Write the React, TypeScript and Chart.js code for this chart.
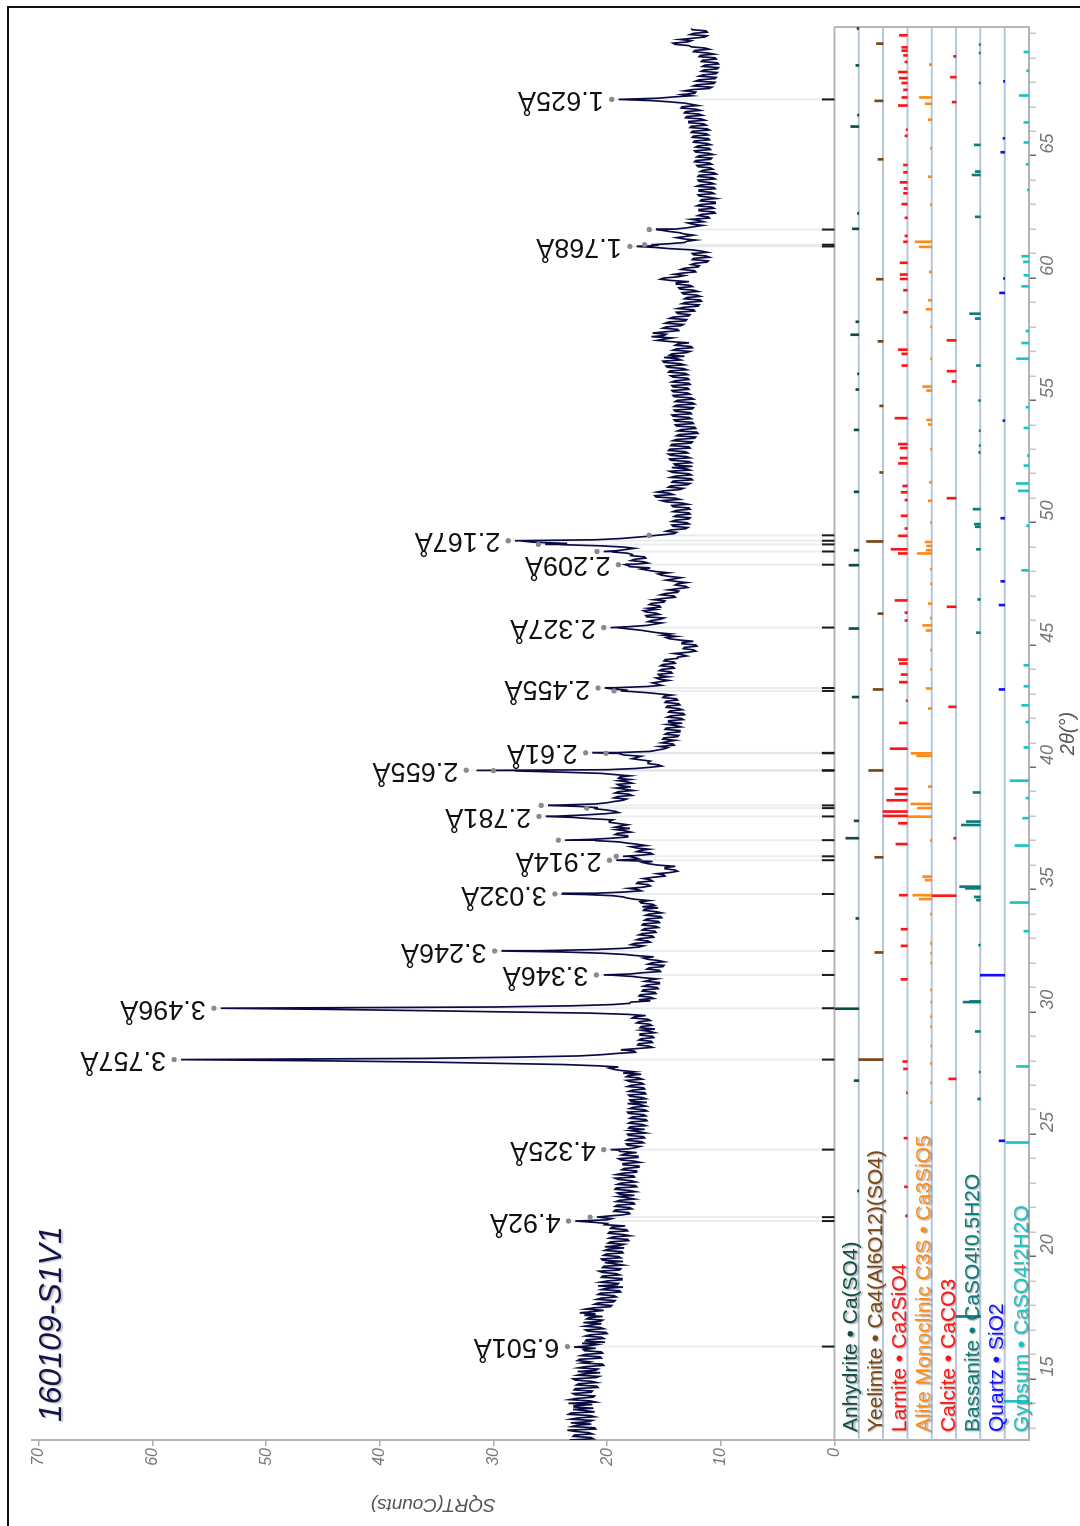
import React, { useEffect, useRef } from 'react';
import { Chart, registerables } from 'chart.js';

Chart.register(...registerables);

const FONT = '"Liberation Sans", Arial, Helvetica, sans-serif';

// ---- axes ----
const THETA_MIN = 12;
const THETA_MAX = 69.76;
const COUNTS_MAX = 70.6;
const LANE = 2.14; // height of one reference-pattern lane (SQRT(Counts) units)
const countTicks = [0, 10, 20, 30, 40, 50, 60, 70];
const thetaTicks = [12, 13, 14, 15, 16, 17, 18, 19, 20, 21, 22, 23, 24, 25, 26, 27, 28, 29, 30, 31, 32, 33, 34, 35, 36, 37, 38, 39, 40, 41, 42, 43, 44, 45, 46, 47, 48, 49, 50, 51, 52, 53, 54, 55, 56, 57, 58, 59, 60, 61, 62, 63, 64, 65, 66, 67, 68, 69];

// ---- measured scan, SQRT(Counts) at 12.0, 12.1, 12.2 ... ----
const SCAN_START = 12.0;
const SCAN_STEP = 0.1;
const scan12to20 = [
  23.3, 21.4, 22.9, 21.6, 23.5, 21.1, 22.7, 23.2, 21.3, 22.6,
  21.5, 23.2, 21.9, 21.2, 22.9, 23.4, 21.5, 22.7, 21.1, 23.0,
  21.3, 22.8, 20.9, 22.5, 21.4, 23.0, 20.7, 22.1, 22.6, 20.8,
  21.9, 20.4, 21.6, 22.4, 20.6, 21.9, 20.5, 22.1, 22.9, 20.9,
  20.2, 21.8, 20.5, 21.5, 20.1, 21.9, 20.6, 21.4, 22.1, 20.4,
  21.6, 22.0, 22.4, 20.3, 21.2, 19.6, 20.8, 19.3, 20.5, 19.4,
  20.6, 18.9, 20.1, 20.8, 19.0, 20.0, 18.7, 20.4, 19.2, 20.7,
  18.8, 20.3, 19.3, 18.6, 20.5, 19.0, 20.1, 18.7, 19.9, 20.2,
];
const scan20to30 = [
  18.5, 19.7, 18.2, 19.5, 18.6, 19.8, 18.3, 19.6, 20.2, 21.2,
  20.0, 20.6, 18.7, 18.1, 19.3, 18.0, 19.1, 17.7, 18.9, 18.2,
  17.6, 19.1, 18.0, 19.2, 17.5, 18.8, 17.9, 19.3, 17.7, 18.7,
  17.4, 18.5, 17.2, 18.6, 17.6, 19.0, 17.3, 18.4, 18.9, 18.2,
  17.1, 18.3, 17.0, 18.1, 16.8, 18.2, 17.2, 16.7, 18.0, 16.9,
  17.9, 16.6, 17.8, 16.8, 18.2, 16.7, 17.7, 17.0, 16.5, 18.0,
  16.9, 18.1, 16.7, 17.8, 16.8, 17.9, 17.0, 18.3, 17.2, 18.1,
  18.6, 18.7, 19.8, 21.0, 30.0, 45.0, 36.0, 22.5, 19.2, 17.6,
  17.4, 16.3, 17.2, 16.1, 17.0, 16.0, 17.1, 16.2, 15.8, 17.0,
  16.3, 17.2, 16.4, 17.6, 18.2, 29.0, 44.0, 30.0, 19.5, 17.9,
];
const scan30to40 = [
  17.2, 16.2, 17.1, 15.8, 16.8, 15.6, 16.5, 15.4, 16.3, 16.9,
  19.5, 16.9, 15.4, 16.3, 15.0, 16.1, 15.5, 16.8, 17.4, 20.5,
  26.0, 18.5, 16.8, 17.6, 16.4, 17.1, 16.0, 16.9, 15.8, 16.7,
  15.7, 16.8, 15.5, 16.5, 15.3, 16.3, 15.7, 16.7, 16.9, 16.0,
  17.1, 17.5, 18.6, 22.0, 18.5, 17.3, 16.8, 16.4, 17.3, 16.2,
  16.0, 15.0, 14.4, 14.0, 14.9, 15.5, 16.8, 19.2, 17.5, 17.2,
  16.2, 17.1, 17.4, 16.6, 18.2, 21.0, 19.6, 18.2, 19.1, 18.4,
  18.0, 18.8, 19.0, 19.8, 21.5, 24.5, 20.2, 19.3, 21.0, 22.5,
  21.0, 19.4, 18.3, 19.1, 18.1, 19.0, 18.4, 17.9, 19.1, 18.2,
  18.0, 18.9, 19.3, 24.0, 20.0, 16.2, 15.5, 16.4, 17.0, 17.4,
];
const scan40to50 = [
  18.5, 19.0, 15.6, 14.7, 14.1, 15.2, 14.0, 15.0, 13.7, 14.7,
  13.6, 14.8, 13.9, 13.4, 14.6, 13.5, 14.4, 13.3, 14.5, 13.7,
  14.7, 13.7, 14.8, 13.9, 15.0, 15.4, 18.0, 19.5, 16.5, 15.6,
  15.3, 15.4, 14.6, 15.5, 14.4, 15.2, 14.2, 15.1, 14.1, 14.9,
  13.8, 13.4, 12.9, 12.4, 13.2, 12.2, 13.4, 13.6, 14.8, 15.1,
  15.6, 17.0, 19.0, 16.5, 15.2, 16.1, 15.0, 16.6, 15.7, 16.8,
  16.4, 15.4, 16.1, 14.9, 15.1, 14.1, 14.9, 13.7, 13.8, 13.1,
  13.8, 14.0, 14.1, 14.5, 15.5, 15.7, 17.0, 18.0, 17.6, 16.8,
  17.6, 16.7, 17.8, 19.5, 18.4, 18.5, 24.0, 26.5, 21.0, 17.5,
  15.2, 13.9, 14.4, 12.9, 14.3, 13.0, 14.0, 12.7, 13.9, 12.8,
];
const scan50to60 = [
  13.9, 12.8, 14.3, 13.4, 15.2, 14.0, 15.8, 14.5, 15.0, 13.3,
  14.4, 12.7, 14.2, 12.6, 14.0, 12.8, 14.5, 13.0, 12.5, 14.1,
  12.8, 14.5, 13.0, 14.6, 13.1, 14.5, 12.8, 14.3, 12.5, 13.9,
  12.2, 13.7, 12.1, 13.5, 12.3, 14.0, 12.5, 14.1, 12.8, 14.3,
  12.7, 14.1, 12.4, 13.9, 12.5, 13.8, 12.6, 14.2, 12.9, 14.3,
  12.9, 14.3, 12.8, 14.0, 12.9, 14.4, 13.1, 14.5, 13.3, 14.8,
  13.6, 15.1, 13.8, 13.2, 14.3, 12.7, 13.9, 12.6, 13.8, 14.4,
  15.0, 16.1, 14.8, 14.9, 13.8, 14.8, 13.3, 14.6, 13.0, 14.2,
  12.7, 13.9, 12.4, 13.3, 11.9, 13.1, 11.8, 13.0, 12.1, 13.4,
  12.4, 13.7, 12.7, 13.9, 14.4, 15.0, 13.2, 13.4, 12.3, 13.2,
];
const scan60to70 = [
  11.9, 12.3, 11.1, 12.4, 11.3, 12.5, 11.7, 14.5, 16.5, 14.6,
  13.0, 13.3, 13.1, 13.2, 14.5, 14.0, 12.3, 12.5, 11.5, 12.6,
  11.1, 11.7, 10.6, 11.9, 10.8, 11.8, 10.5, 11.7, 11.0, 12.0,
  10.8, 11.9, 10.6, 11.8, 10.9, 12.0, 10.7, 11.9, 10.6, 11.6,
  10.9, 12.1, 11.0, 12.2, 10.8, 11.9, 11.1, 12.3, 11.0, 12.0,
  11.2, 12.3, 11.1, 12.4, 11.3, 12.5, 11.2, 12.6, 11.5, 12.8,
  11.7, 13.0, 11.9, 13.1, 12.2, 13.4, 12.6, 14.5, 19.0, 14.2,
  13.4, 12.2, 12.5, 10.8, 12.1, 10.5, 11.9, 10.4, 11.6, 10.3,
  11.5, 10.2, 11.4, 10.3, 11.6, 10.5, 11.8, 11.2, 12.3, 11.4,
  12.8, 14.2, 12.6, 12.5, 11.2, 12.4, 11.3, 12.6,
];

// ---- measured scan, in-between readings at 12.05, 12.15, 12.25 ... ----
const MID_START = 12.05;
const mid12to20 = [
  21.2, 23.0, 21.3, 22.8, 21.0, 23.1, 21.4, 21.6, 23.2, 21.1,
  23.4, 21.1, 23.0, 22.9, 21.3, 21.0, 23.3, 21.2, 22.8, 21.4,
  22.9, 20.8, 22.7, 20.9, 22.8, 21.0, 22.6, 20.6, 21.0, 22.5,
  20.3, 22.2, 22.6, 20.5, 22.3, 20.4, 22.0, 21.0, 21.6, 22.2,
  21.9, 20.3, 21.9, 20.0, 21.7, 20.3, 22.0, 20.5, 20.6, 21.8,
  20.4, 21.0, 21.2, 21.9, 19.7, 21.1, 19.4, 20.9, 19.2, 20.8,
  18.8, 20.5, 18.6, 19.1, 20.6, 18.7, 20.5, 18.9, 20.4, 18.9,
  20.4, 18.6, 20.2, 20.4, 18.8, 20.3, 18.6, 20.2, 18.5, 18.9,
];
const mid20to30 = [
  19.9, 18.1, 19.8, 18.0, 19.9, 18.2, 19.7, 18.4, 20.0, 22.8,
  19.6, 20.0, 18.0, 19.4, 17.8, 19.3, 17.6, 19.2, 17.6, 19.0,
  18.9, 17.5, 19.3, 17.4, 19.1, 17.5, 19.0, 17.6, 19.2, 17.4,
  18.7, 17.2, 18.6, 17.1, 18.8, 17.3, 18.7, 17.4, 19.0, 17.5,
  18.2, 16.8, 18.3, 16.7, 18.1, 16.6, 18.0, 18.1, 16.6, 18.1,
  16.5, 18.0, 16.6, 18.1, 16.5, 18.0, 16.6, 18.2, 17.9, 16.6,
  18.0, 16.6, 18.1, 16.7, 18.2, 16.8, 18.0, 16.9, 18.3, 17.0,
  17.6, 19.4, 19.0, 24.0, 36.0, 57.5, 28.0, 20.5, 17.5, 18.8,
  16.0, 17.3, 16.0, 17.2, 15.9, 17.1, 15.8, 17.0, 17.1, 16.1,
  17.4, 16.2, 17.8, 16.6, 21.5, 36.0, 54.0, 23.0, 18.0, 16.2,
];
const mid30to40 = [
  15.9, 17.2, 15.7, 16.9, 15.5, 16.8, 15.4, 16.7, 15.6, 17.8,
  18.0, 15.3, 16.5, 15.1, 16.4, 15.0, 16.4, 15.9, 18.5, 24.0,
  21.0, 17.2, 17.9, 16.2, 17.4, 15.9, 17.2, 15.7, 16.9, 15.5,
  16.9, 15.4, 16.7, 15.2, 16.6, 15.2, 16.8, 15.5, 15.8, 17.0,
  16.3, 18.2, 19.5, 21.0, 17.0, 18.1, 16.2, 17.4, 16.0, 16.8,
  14.9, 15.6, 13.8, 14.9, 14.0, 16.3, 16.0, 17.2, 18.0, 16.0,
  17.4, 16.3, 17.9, 17.3, 19.0, 21.5, 18.2, 19.3, 17.9, 19.2,
  19.3, 18.2, 19.8, 19.5, 23.0, 22.0, 19.0, 20.0, 20.8, 24.5,
  20.0, 18.6, 19.4, 17.8, 19.3, 17.7, 19.2, 18.9, 17.8, 19.0,
  19.0, 18.0, 20.5, 28.0, 17.5, 15.2, 16.4, 16.2, 17.8, 17.0,
];
const mid40to50 = [
  18.9, 16.2, 15.0, 15.4, 14.2, 14.7, 15.1, 13.8, 14.9, 13.6,
  14.9, 13.5, 14.7, 14.6, 13.3, 14.7, 13.2, 14.6, 13.4, 14.8,
  13.6, 14.9, 13.8, 15.1, 14.3, 16.5, 18.2, 19.4, 15.2, 16.0,
  14.6, 15.7, 15.4, 14.3, 15.4, 14.1, 15.3, 14.0, 15.0, 13.8,
  13.0, 14.1, 12.2, 13.3, 12.1, 13.4, 12.4, 14.5, 13.9, 14.4,
  16.3, 18.0, 18.0, 15.8, 16.4, 15.3, 16.5, 15.4, 16.6, 15.7,
  15.3, 16.3, 15.0, 15.9, 14.0, 15.3, 13.8, 14.6, 12.9, 14.0,
  13.0, 14.8, 13.5, 15.2, 14.6, 16.4, 16.2, 18.2, 16.4, 17.9,
  16.6, 17.9, 18.2, 19.2, 17.6, 20.5, 23.5, 27.5, 18.8, 16.2,
  14.1, 14.8, 13.1, 14.2, 12.8, 14.3, 12.8, 14.1, 12.7, 14.2,
];
const mid50to60 = [
  12.7, 14.2, 12.9, 14.8, 13.6, 15.7, 14.2, 15.6, 13.6, 14.6,
  12.9, 14.3, 12.5, 14.4, 12.6, 14.2, 12.7, 14.3, 14.0, 12.6,
  14.4, 12.7, 14.4, 12.9, 14.6, 12.7, 14.4, 12.6, 14.2, 12.3,
  13.9, 12.0, 13.8, 12.2, 13.9, 12.4, 14.0, 12.6, 14.2, 12.6,
  14.0, 12.5, 14.1, 12.3, 14.0, 12.4, 14.1, 12.7, 14.2, 12.8,
  14.2, 12.7, 14.3, 12.8, 14.2, 12.9, 14.6, 13.0, 14.7, 13.2,
  15.0, 13.5, 15.0, 14.5, 13.0, 14.2, 12.5, 14.0, 12.8, 15.6,
  14.3, 15.0, 16.0, 13.7, 15.1, 13.5, 14.9, 13.1, 14.5, 12.8,
  13.8, 12.3, 13.8, 12.0, 13.4, 11.7, 13.2, 11.8, 13.3, 12.0,
  13.6, 12.5, 13.9, 12.8, 15.3, 13.7, 14.1, 12.2, 13.5, 12.0,
];
const mid60to70 = [
  12.6, 11.2, 12.5, 11.0, 12.4, 11.2, 12.5, 15.8, 15.5, 13.2,
  12.2, 13.9, 12.4, 13.6, 15.2, 13.0, 11.6, 12.9, 11.9, 11.0,
  12.0, 10.5, 11.9, 10.6, 12.1, 10.5, 11.8, 10.4, 11.9, 10.6,
  11.9, 10.5, 12.1, 10.6, 11.9, 10.5, 12.0, 10.4, 11.8, 10.7,
  12.0, 10.8, 12.3, 10.9, 12.1, 10.7, 12.2, 10.9, 12.2, 10.9,
  12.4, 11.0, 12.5, 11.1, 12.6, 11.0, 12.7, 11.3, 12.8, 11.4,
  13.1, 11.6, 13.2, 11.8, 13.5, 12.0, 13.2, 16.0, 15.5, 12.6,
  12.3, 13.2, 11.0, 12.4, 10.6, 12.2, 10.5, 11.9, 10.4, 11.7,
  10.3, 11.6, 10.2, 11.7, 10.4, 11.9, 10.6, 12.4, 11.0, 12.6,
  14.0, 12.9, 13.6, 11.4, 12.7, 11.2, 12.5,
];

// extra measured points on sharp reflections (2θ, SQRT(Counts))
const peakTheta = [21.11, 23.87, 31.01, 31.99, 34.32, 35.86, 36.52, 37.49, 37.83, 37.94, 39.36, 39.38, 40.07, 40.09, 42.62, 42.74, 45.21, 47.78, 48.32, 48.61, 48.76, 48.98, 60.79, 60.86, 61.48];
const peakCounts = [20.9, 19.7, 20.3, 29.3, 24.0, 18.6, 23.7, 25.4, 21.2, 25.2, 29.4, 31.5, 19.5, 21.3, 18.8, 20.2, 19.7, 18.4, 20.3, 25.45, 28.1, 15.7, 17.4, 16.1, 15.7];

// labelled peaks (d-spacing) and their marker height
const labelTheta = [15.82, 20.95, 23.87, 27.55, 29.65, 31.01, 31.99, 34.32, 35.70, 37.49, 39.38, 40.09, 42.74, 45.21, 47.78, 48.76, 60.79, 66.80];
const labelText = ['6.501Å', '4.92Å', '4.325Å', '3.757Å', '3.496Å', '3.346Å', '3.246Å', '3.032Å', '2.914Å', '2.781Å', '2.655Å', '2.61Å', '2.455Å', '2.327Å', '2.209Å', '2.167Å', '1.768Å', '1.625Å'];
const labelDot = [23.5, 23.4, 20.3, 58.1, 54.6, 20.95, 29.9, 24.6, 19.8, 26.0, 32.4, 21.9, 20.8, 20.3, 19.0, 28.7, 18.0, 19.6];
// unlabelled peak markers
const extraTheta = [21.11, 35.86, 36.52, 37.83, 37.94, 39.36, 40.07, 42.62, 48.32, 48.61, 48.98, 60.86, 61.48];
const extraDot = [21.5, 19.2, 24.3, 21.8, 25.8, 30.0, 20.1, 19.4, 20.9, 26.05, 16.3, 16.7, 16.3];

// ---- reference patterns: [2θ, relative intensity %] ----
const phaseNames = ['Anhydrite', 'Yeelimite', 'Larnite', 'Alite Monoclinic C3S', 'Calcite', 'Bassanite', 'Quartz', 'Gypsum'];
const phaseFormulas = ['Ca(SO4)', 'Ca4(Al6O12)(SO4)', 'Ca2SiO4', 'Ca3SiO5', 'CaCO3', 'CaSO4!0.5H2O', 'SiO2', 'CaSO4!2H2O'];
const phaseColors = ['#0e4d47', '#7a4612', '#ff1414', '#ff8a14', '#ff1414', '#0b7d78', '#1010ff', '#18c4c4'];

const anhydriteSticks = [[22.18, 5], [26.69, 19], [29.63, 100], [33.32, 12], [36.6, 53], [37.31, 19], [42.37, 27], [45.17, 40], [47.76, 40], [48.37, 19], [50.76, 19], [53.29, 19], [54.94, 12], [55.58, 5], [57.18, 33], [57.71, 12], [61.51, 26], [62.14, 5], [65.69, 33], [66.16, 5], [68.19, 12], [69.7, 7]];
const yeelimiteSticks = [[27.55, 100], [31.93, 34], [35.82, 34], [39.37, 59], [42.68, 41], [45.78, 21], [48.73, 68], [51.55, 14], [54.27, 14], [56.91, 21], [59.45, 27], [64.35, 21], [66.74, 34], [69.08, 27]];
const larniteSticks = [[21.16, 8], [22.35, 12], [24.34, 14], [26.19, 4], [27.17, 16], [27.47, 19], [30.83, 26], [32.2, 26], [32.88, 26], [34.27, 33], [36.36, 47], [37.21, 37], [37.51, 100], [37.69, 100], [38.15, 85], [38.4, 51], [38.62, 51], [40.26, 71], [41.31, 33], [42.22, 5], [42.98, 33], [43.29, 26], [43.74, 33], [43.9, 37], [45.5, 10], [45.82, 10], [46.32, 51], [48.24, 37], [48.41, 67], [48.96, 37], [49.26, 10], [49.78, 26], [50.42, 10], [50.74, 26], [51.0, 19], [51.92, 37], [52.14, 30], [52.55, 30], [52.71, 37], [53.77, 51], [55.92, 23], [56.4, 23], [56.57, 37], [58.1, 16], [59.0, 16], [59.46, 30], [59.64, 30], [60.12, 30], [60.98, 16], [61.22, 10], [61.96, 10], [62.52, 23], [62.96, 16], [63.16, 14], [63.41, 30], [63.82, 16], [64.12, 16], [65.31, 10], [65.56, 5], [66.55, 37], [66.88, 23], [67.19, 16], [67.47, 23], [67.67, 33], [67.92, 37], [68.33, 10], [68.6, 16], [68.79, 23], [68.93, 23], [69.42, 33]];
const aliteSticks = [[25.8, 5], [26.6, 5], [27.4, 6], [28.1, 4], [28.9, 5], [29.3, 6], [29.9, 4], [30.4, 5], [31.5, 4], [31.9, 5], [32.3, 5], [33.5, 5], [34.11, 51], [34.27, 78], [34.89, 27], [35.03, 37], [36.5, 6], [37.48, 100], [37.83, 59], [38.0, 86], [38.71, 14], [39.97, 62], [40.07, 85], [41.9, 14], [42.72, 23], [43.5, 5], [44.3, 5], [45.09, 23], [45.3, 37], [45.6, 6], [46.19, 14], [47.0, 5], [47.6, 6], [48.24, 59], [48.37, 23], [48.55, 21], [48.71, 27], [49.5, 5], [50.39, 14], [51.15, 10], [52.5, 5], [53.51, 14], [53.7, 21], [54.9, 21], [55.06, 37], [56.2, 5], [57.5, 5], [58.22, 23], [58.59, 14], [59.75, 10], [60.77, 51], [60.98, 68], [62.5, 5], [63.64, 14], [64.8, 5], [65.97, 14], [66.62, 27], [66.88, 51], [68.22, 10], [69.86, 5]];
const calciteSticks = [[26.76, 30], [34.25, 100], [36.6, 10], [41.97, 30], [46.06, 37], [50.5, 37], [55.27, 16], [55.69, 37], [56.95, 37], [66.69, 16], [67.71, 23], [68.56, 10]];
const bassaniteSticks = [[17.05, 100], [25.94, 11], [27.04, 5], [28.7, 21], [29.9, 71], [29.93, 44], [32.23, 7], [34.07, 16], [34.2, 25], [34.55, 62], [34.62, 85], [37.14, 78], [37.28, 58], [38.47, 30], [45.0, 16], [46.36, 11], [48.41, 16], [49.33, 21], [49.44, 25], [50.05, 30], [52.37, 7], [52.65, 5], [53.26, 5], [54.49, 7], [55.92, 16], [57.84, 21], [58.04, 44], [62.0, 21], [63.71, 34], [63.85, 21], [64.94, 25], [67.47, 5], [68.7, 5], [69.04, 5]];
const quartzSticks = [[24.23, 23], [31.0, 100], [42.68, 23], [46.13, 23], [47.1, 16], [49.68, 16], [53.67, 7], [58.89, 21], [59.48, 5], [64.64, 16], [65.21, 7], [67.54, 5]];
const gypsumSticks = [[13.58, 100], [24.16, 95], [27.27, 51], [32.8, 21], [33.97, 78], [36.3, 58], [37.42, 26], [38.24, 12], [38.95, 78], [40.31, 21], [41.35, 12], [42.03, 30], [42.81, 21], [43.67, 21], [47.55, 30], [49.37, 10], [50.8, 44], [51.1, 52], [51.83, 21], [52.24, 7], [53.37, 21], [54.22, 12], [56.2, 51], [56.84, 30], [57.33, 12], [59.16, 30], [59.61, 21], [60.16, 23], [60.39, 30], [63.1, 7], [64.15, 12], [65.04, 21], [65.86, 21], [66.96, 40], [67.97, 10], [68.74, 21]];
const phaseSticks = [anhydriteSticks, yeelimiteSticks, larniteSticks, aliteSticks, calciteSticks, bassaniteSticks, quartzSticks, gypsumSticks];

const SAMPLE_TITLE = '160109-S1V1';

const decorPlugin = {
  id: 'xrdDecor',
  beforeDraw(chart: any) {
    const { ctx, width } = chart;
    ctx.save();
    ctx.strokeStyle = '#111';
    ctx.lineWidth = 2;
    ctx.beginPath();
    ctx.moveTo(-5, 8);
    ctx.lineTo(width - 7, 8);
    ctx.lineTo(width - 7, chart.height + 10);
    ctx.stroke();
    ctx.restore();
  },
  beforeDatasetsDraw(chart: any) {
    const { ctx, chartArea: a, scales } = chart;
    const x = scales.x;
    const y = scales.y;
    ctx.save();
    // guide lines from markers down to baseline
    ctx.lineWidth = 2;
    ctx.strokeStyle = 'rgba(200,204,216,0.38)';
    const ts = [...labelTheta, ...extraTheta];
    const ds = [...labelDot, ...extraDot];
    ts.forEach((t, i) => {
      const px = x.getPixelForValue(t);
      ctx.beginPath();
      ctx.moveTo(px, y.getPixelForValue(ds[i]));
      ctx.lineTo(px, y.getPixelForValue(0));
      ctx.stroke();
    });
    // lane baselines
    ctx.strokeStyle = '#b5c6de';
    ctx.lineWidth = 2;
    for (let k = 1; k < phaseNames.length; k++) {
      const py = y.getPixelForValue(-LANE * k);
      ctx.beginPath();
      ctx.moveTo(a.left, py);
      ctx.lineTo(a.right, py);
      ctx.stroke();
    }
    // boundary between scan and patterns + right border of pattern box
    ctx.strokeStyle = '#b6b6b6';
    const p0 = y.getPixelForValue(0);
    ctx.beginPath();
    ctx.moveTo(a.left, p0);
    ctx.lineTo(a.right, p0);
    ctx.moveTo(a.right, p0);
    ctx.lineTo(a.right, a.bottom);
    ctx.stroke();
    ctx.restore();
  },
  afterDatasetsDraw(chart: any) {
    const { ctx, chartArea: a, scales } = chart;
    const x = scales.x;
    const y = scales.y;
    ctx.save();
    const ts = [...labelTheta, ...extraTheta];
    const ds = [...labelDot, ...extraDot];
    // black marker ticks at baseline
    ctx.strokeStyle = '#1a1a1a';
    ctx.lineWidth = 2;
    ts.forEach((t) => {
      const px = x.getPixelForValue(t);
      ctx.beginPath();
      ctx.moveTo(px, y.getPixelForValue(0));
      ctx.lineTo(px, y.getPixelForValue(1.1));
      ctx.stroke();
    });
    // marker dots
    ctx.fillStyle = '#8a8a8a';
    ts.forEach((t, i) => {
      ctx.beginPath();
      ctx.arc(x.getPixelForValue(t), y.getPixelForValue(ds[i]), 2.6, 0, Math.PI * 2);
      ctx.fill();
    });
    // d-spacing labels
    ctx.fillStyle = '#111';
    ctx.font = `27px ${FONT}`;
    ctx.textAlign = 'left';
    ctx.textBaseline = 'middle';
    labelTheta.forEach((t, i) => {
      ctx.save();
      ctx.translate(x.getPixelForValue(t), y.getPixelForValue(labelDot[i]) - 8);
      ctx.rotate(-Math.PI / 2);
      ctx.fillText(labelText[i], 0, 0);
      ctx.restore();
    });
    // lane legends
    ctx.font = `21px ${FONT}`;
    ctx.textBaseline = 'alphabetic';
    ctx.shadowColor = 'rgba(0,0,0,0.35)';
    ctx.shadowBlur = 1.5;
    ctx.shadowOffsetX = -1;
    ctx.shadowOffsetY = 1.5;
    phaseNames.forEach((n, k) => {
      ctx.fillStyle = phaseColors[k];
      ctx.fillText(`${n} • ${phaseFormulas[k]}`, a.left + 8, y.getPixelForValue(-LANE * (k + 1)) - 1.5);
    });
    // sample title
    ctx.fillStyle = '#14144a';
    ctx.font = `italic 32px ${FONT}`;
    ctx.shadowColor = 'rgba(0,0,0,0.25)';
    ctx.fillText(SAMPLE_TITLE, a.left + 18, a.top + 29);
    ctx.shadowColor = 'rgba(0,0,0,0)';
    // y-axis title centred on the counts range
    ctx.save();
    ctx.fillStyle = '#555';
    ctx.font = `italic 19px ${FONT}`;
    ctx.textAlign = 'center';
    ctx.textBaseline = 'middle';
    ctx.translate(y.left + 22, y.getPixelForValue(COUNTS_MAX / 2));
    ctx.rotate(-Math.PI / 2);
    ctx.fillText('SQRT(Counts)', 0, 0);
    ctx.restore();
    ctx.restore();
  },
};

export default function App() {
  const ref = useRef<HTMLCanvasElement>(null);

  useEffect(() => {
    const canvas = ref.current;
    if (!canvas) return;
    const scan = [...scan12to20, ...scan20to30, ...scan30to40, ...scan40to50, ...scan50to60, ...scan60to70];
    const mid = [...mid12to20, ...mid20to30, ...mid30to40, ...mid40to50, ...mid50to60, ...mid60to70];
    const pts = scan.map((c, i) => ({ x: Math.round((SCAN_START + i * SCAN_STEP) * 100) / 100, y: c }));
    mid.forEach((c, i) => pts.push({ x: Math.round((MID_START + i * SCAN_STEP) * 100) / 100, y: c }));
    peakTheta.forEach((t, i) => pts.push({ x: t, y: peakCounts[i] }));
    pts.sort((p, q) => p.x - q.x);

    const stickSets = phaseSticks.map((list, k) => ({
      type: 'bar' as const,
      data: list.map(([t, I]) => ({ x: t, y: [-LANE * (k + 1), -LANE * (k + 1) + (LANE * I) / 100] })),
      backgroundColor: phaseColors[k],
      borderWidth: 0,
      barThickness: 2,
      grouped: false,
      order: 2,
    }));

    const chart = new Chart(canvas, {
      type: 'line',
      data: {
        datasets: [
          {
            type: 'line',
            data: pts,
            borderColor: '#0b0b44',
            borderWidth: 1.7,
            pointRadius: 0,
            tension: 0,
            fill: false,
            order: 1,
          } as any,
          ...(stickSets as any[]),
        ],
      },
      options: {
        responsive: false,
        animation: false,
        events: [],
        layout: { padding: { left: 0, right: 27, top: 32, bottom: 0 } },
        plugins: { legend: { display: false }, tooltip: { enabled: false }, title: { display: false } },
        scales: {
          x: {
            type: 'linear',
            min: THETA_MIN,
            max: THETA_MAX,
            offset: false,
            afterBuildTicks: (s: any) => {
              s.ticks = thetaTicks.map((v) => ({ value: v }));
            },
            afterFit: (s: any) => {
              s.height = 51;
            },
            ticks: {
              autoSkip: false,
              maxRotation: 0,
              minRotation: 0,
              padding: 1,
              color: '#777',
              font: { family: FONT, size: 18, style: 'italic' },
              callback: (v: any) => (Number(v) % 5 === 0 ? String(v) : ''),
            },
            grid: {
              drawOnChartArea: false,
              drawTicks: true,
              tickLength: 7,
              lineWidth: 1.5,
              color: (c: any) => (c.tick && c.tick.value % 5 === 0 ? '#6a6a6a' : '#c6c6c6'),
            },
            border: { display: true, color: '#b3b3b3', width: 2 },
            title: {
              display: true,
              text: '2θ(°)',
              color: '#555',
              font: { family: FONT, size: 20, style: 'italic' },
              padding: { top: 0, bottom: 0 },
            },
          },
          y: {
            type: 'linear',
            min: -LANE * phaseNames.length,
            max: COUNTS_MAX,
            afterBuildTicks: (s: any) => {
              s.ticks = countTicks.map((v) => ({ value: v }));
            },
            afterFit: (s: any) => {
              s.width = 86;
            },
            ticks: {
              padding: 2,
              color: '#777',
              font: { family: FONT, size: 16, style: 'italic' },
              callback: (v: any) => String(v),
            },
            grid: { drawOnChartArea: false, drawTicks: true, tickLength: 6, lineWidth: 1.5, color: '#aaa' },
            border: { display: true, color: '#b3b3b3', width: 2 },
            title: { display: false },
          },
        },
      } as any,
      plugins: [decorPlugin],
    });
    return () => chart.destroy();
  }, []);

  return (
    <div
      style={{
        position: 'fixed',
        left: 0,
        top: 0,
        width: 1526,
        height: 1080,
        transformOrigin: '0 0',
        transform: 'translateY(1526px) rotate(-90deg)',
        background: '#fff',
      }}
    >
      <canvas ref={ref} width={1526} height={1080} style={{ display: 'block', width: 1526, height: 1080 }} />
    </div>
  );
}
